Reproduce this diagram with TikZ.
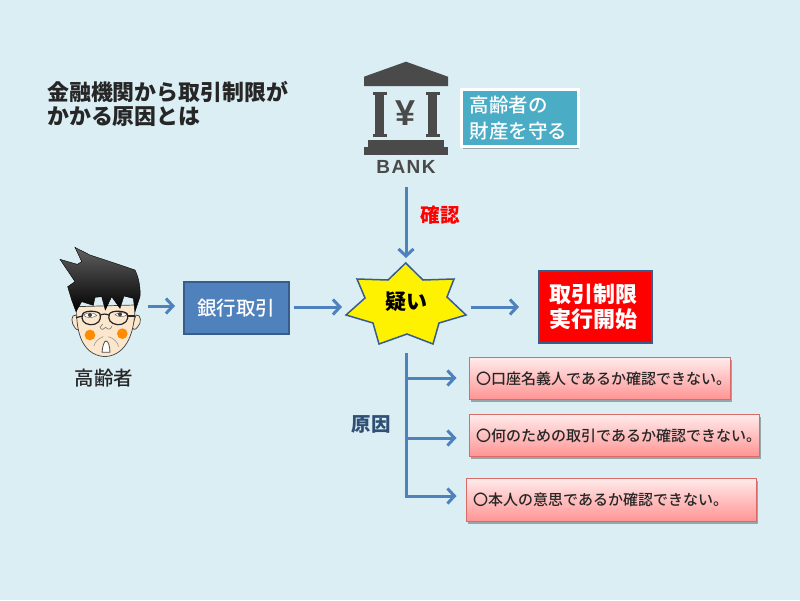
\documentclass[tikz,border=0pt]{standalone}
\usepackage{fontspec}
\setmainfont{Noto Sans CJK JP}
\newfontfamily\mediumcjk{Noto Sans CJK JP Medium}
\newfontfamily\latinbold{Liberation Sans}[BoldFont={Liberation Sans Bold}]
\usetikzlibrary{arrows.meta,shadows,calc}
\definecolor{bgc}{HTML}{DBEEF4}
\definecolor{flow}{HTML}{4F81BD}
\definecolor{flowdark}{HTML}{385D8A}
\definecolor{iconc}{HTML}{4A4A4A}
\definecolor{teal}{HTML}{4BACC6}
\definecolor{tx}{HTML}{262626}
\definecolor{skinc}{HTML}{FCE6CC}
\definecolor{boxedge}{HTML}{D96A68}
\newcommand{\fs}[1]{\fontsize{#1}{#1}\selectfont}
\tikzset{
  flowline/.style={draw=flow,line width=3pt},
  flowarrow/.style={flowline,-{Straight Barb[length=7pt,width=15pt,line width=3pt]}},
  softshadow/.style={drop shadow={shadow xshift=1pt,shadow yshift=-2pt,opacity=.3,fill=black}},
  reason/.style={draw=boxedge,line width=1pt,top color=red!8,bottom color=red!42,softshadow,
    minimum height=42pt,anchor=north west,text=tx,inner sep=0pt},
  reasontext/.style={text=tx,anchor=west,inner sep=0pt,font=\mediumcjk\fs{15}},
  iconpart/.style={fill=iconc,draw=none},
  skin/.style={fill=skinc,draw=black!75,line width=.7pt},
  glass/.style={draw=black!85,line width=1.2pt,fill=none},
  wrinkle/.style={draw=black!40,line width=.6pt},
}
\begin{document}
\begin{tikzpicture}[x=1pt,y=-1pt]
\useasboundingbox (0,0) rectangle (800,600);
\fill[bgc] (0,0) rectangle (800,600);

% title
\node[anchor=north west,inner sep=0pt,align=left,text=tx,font=\bfseries\fontsize{21.9}{24.5}\selectfont] (title) at (47,81)
  {金融機関から取引制限が\\かかる原因とは};

% bank icon
\fill[iconpart] (406,61.7) -- (448,76.7) -- (448,86) -- (364,86) -- (364,76.7) -- cycle;
\foreach \cx in {379.7,432.5}{
  \fill[iconpart] (\cx-7,91.7) rectangle (\cx+7,95);
  \fill[iconpart] (\cx-4.7,95) rectangle (\cx+4.7,133.5);
  \fill[iconpart] (\cx-7,133.5) rectangle (\cx+7,136.7);
}
\fill[iconpart] (368,140) rectangle (444,147);
\fill[iconpart] (364,147) rectangle (448,154.5);
\node[inner sep=0pt,text=iconc,font=\latinbold\bfseries\fs{36}] (yen) at (406,113) {¥};
\node[inner sep=0pt,text=iconc,font=\latinbold\bfseries\fs{19}] (banktext) at (406,167) {B\kern1.5pt A\kern1.5pt N\kern1.5pt K};
\coordinate (bankbottom) at (406,187);

% teal label
\node[draw=white,line width=3pt,fill=teal,softshadow,anchor=north west,minimum width=116.5pt,minimum height=57pt,
  inner sep=0pt,text=white,align=left,font=\mediumcjk\fontsize{19.5}{26.5}\selectfont] (protect) at (460,88)
  {高齢者の\kern22.5pt\\財産を守る\kern3pt};

\node[inner sep=0pt,text=red,font=\bfseries\fs{19.5}] (confirm) at (440,215) {確認};

% person
\begin{scope}[shift={(40,240)},x=0.3333pt,y=-0.3333pt]
  \path[skin] (108,225) .. controls (92,222) and (92,250) .. (106,265) .. controls (112,272) and (118,270) .. (120,262) -- cycle;
  \path[skin] (288,225) .. controls (304,222) and (306,250) .. (292,262) .. controls (285,272) and (278,268) .. (276,262) -- cycle;
  \path[skin] (110,200) .. controls (108,260) and (118,345) .. (195,350)
     .. controls (265,345) and (285,270) .. (285,195) -- cycle;
  \path[draw=black,top color=black!62,bottom color=black]
     (105,22) -- (150,45) -- (232,72) -- (285,90) .. controls (298,115) and (302,150) .. (300,170)
     -- (285,215) -- (280,175) -- (252,168) -- (240,205) -- (215,170) -- (196,210) -- (185,170)
     -- (165,172) -- (160,196) -- (125,185) -- (108,215) -- (95,180) -- (83,140)
     -- (105,125) -- (60,58) -- (112,73) -- (125,65) -- cycle;
  \fill[orange!90!yellow] (150,285) circle (16);
  \fill[orange!90!yellow] (247,281) circle (16);
  \draw[black!70,fill=white] (130,225) .. controls (145,215) and (165,218) .. (170,227) .. controls (155,235) and (140,235) .. (130,225) -- cycle;
  \draw[black!70,fill=white] (225,224) .. controls (235,215) and (255,217) .. (262,224) .. controls (250,232) and (235,232) .. (225,224) -- cycle;
  \fill[black!75] (150,225) circle (6);
  \fill[black!75] (240,223) circle (6);
  \draw[glass] (128,222) .. controls (135,210) and (175,212) .. (180,222) .. controls (185,240) and (175,255) .. (150,254) .. controls (130,252) and (122,238) .. (128,222) -- cycle;
  \draw[glass] (208,222) .. controls (215,210) and (255,212) .. (262,222) .. controls (268,240) and (255,255) .. (232,254) .. controls (212,252) and (202,238) .. (208,222) -- cycle;
  \draw[glass] (180,226) .. controls (188,221) and (200,221) .. (208,226);
  \draw[glass] (128,228) -- (108,233);
  \draw[glass] (262,228) -- (285,228);
  \draw[black!55,line width=.6pt] (180,262) .. controls (185,272) and (192,268) .. (197,262) .. controls (202,268) and (212,272) .. (216,258);
  \draw[black!55,line width=.6pt] (188,252) .. controls (184,258) and (182,260) .. (180,262);
  \draw[wrinkle] (162,318) .. controls (165,305) and (175,295) .. (190,290);
  \draw[wrinkle] (236,320) .. controls (232,305) and (222,295) .. (205,290);
  \draw[black!70,fill=white,line width=.8pt] (186,337) .. controls (188,318) and (192,303) .. (198,303) .. controls (205,303) and (210,320) .. (210,337) -- cycle;
\end{scope}
\node[inner sep=0pt,text=tx,font=\mediumcjk\fs{19.5}] (elder) at (104,378) {高齢者};
\coordinate (personright) at (148,306);

% flow nodes
\node[draw=flowdark,line width=1.5pt,fill=flow,anchor=north west,minimum width=105pt,minimum height=52pt,inner sep=0pt,
  text=white,font=\mediumcjk\fs{19.5}] (trade) at (183,281) {銀行取引};
\path[draw=flowdark,line width=1.5pt,fill=yellow]
  (405.7,263) coordinate (startop) -- (423,280) -- (454,279) -- (447,297) -- (466,315) -- (439,323) -- (433,344)
  -- (407,334) -- (379,344) -- (373,323) -- (346,315) -- (365,298) -- (357,279) -- (388,280) -- cycle;
\node[inner sep=0pt,font=\bfseries\fs{21}] (doubt) at (406,302) {疑い};
\coordinate (starleft) at (342,307);
\coordinate (starright) at (471,307);
\coordinate (startopgap) at (406,258);
\node[draw=flowdark,line width=2pt,fill=red,anchor=north west,minimum width=113pt,minimum height=72pt,inner sep=0pt,
  text=white,align=center,font=\bfseries\fontsize{22}{25.5}\selectfont] (limit) at (538,270) {取引制限\kern5pt\\実行開始\kern5pt};

% reason boxes
\node[reason,minimum width=261pt] (r1) at (469,357) {};
\node[reason,minimum width=290pt] (r2) at (469,414) {};
\node[reason,minimum width=290pt,minimum height=43pt] (r3) at (466,478) {};
\node[reasontext] (r1t) at (476,379) {〇口座名義人であるか確認できない。};
\node[reasontext] (r2t) at (476,436) {〇何のための取引であるか確認できない。};
\node[reasontext] (r3t) at (473,499.5) {〇本人の意思であるか確認できない。};

\node[inner sep=0pt,text=flowdark!85!black,font=\bfseries\fs{19.5}] (cause) at (371,424) {原因};

% connectors
\draw[flowarrow] (bankbottom) -- (startopgap);
\draw[flowarrow] (personright) -- (175,306);
\draw[flowarrow] (294,307) -- (starleft);
\draw[flowarrow] (starright) -- (519,307);
\coordinate (trunktop) at (406,353);
\coordinate (b1) at (406,378);
\coordinate (b2) at (406,438);
\coordinate (b3) at (406,496);
\draw[flowline] (trunktop) -- (b1) -- (b2) -- (b3);
\draw[flowarrow] ($(b1)+(-1.5,0)$) -- ++(52,0);
\draw[flowarrow] ($(b2)+(-1.5,0)$) -- ++(52,0);
\draw[flowarrow] ($(b3)+(-1.5,0)$) -- ++(52,0);
\end{tikzpicture}
\end{document}
